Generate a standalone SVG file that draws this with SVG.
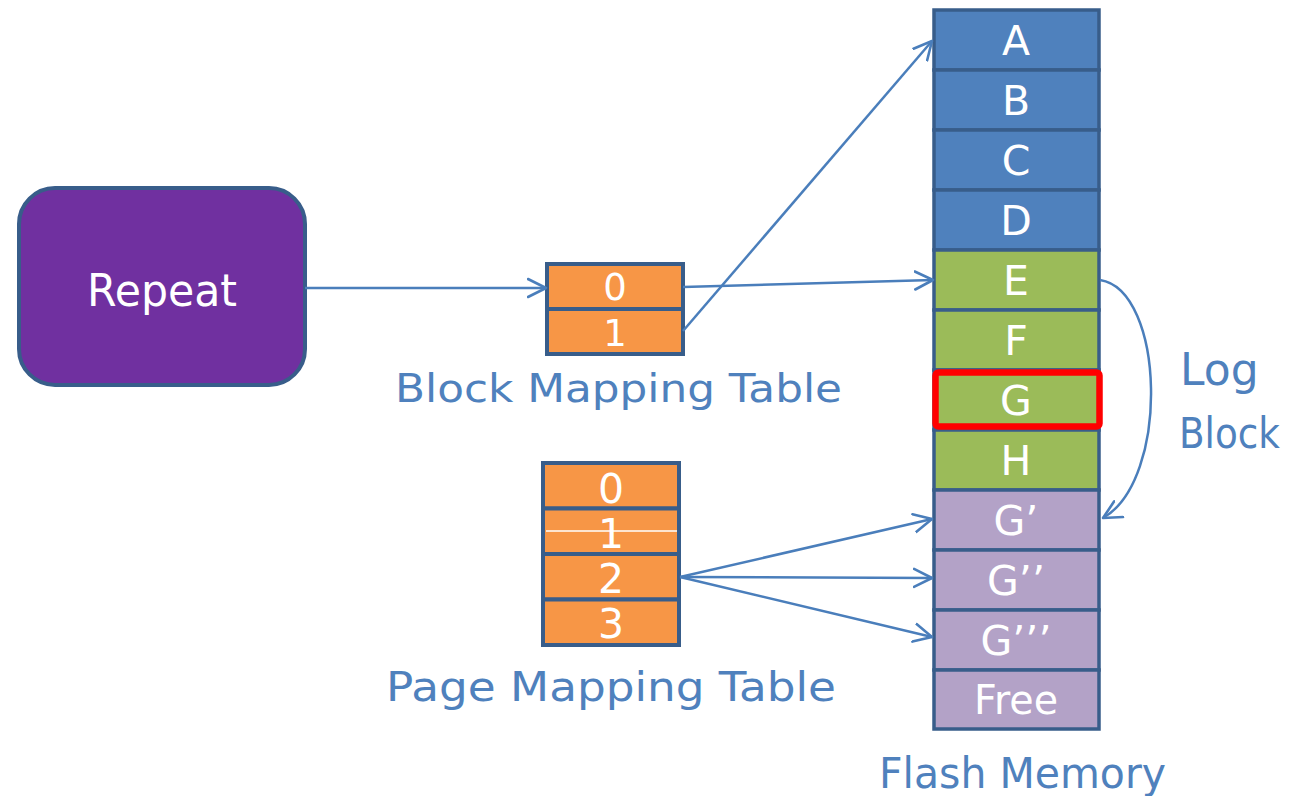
<svg xmlns="http://www.w3.org/2000/svg" width="1295" height="796" viewBox="0 0 1295 796">
<defs>
<style>
.cell{stroke:#385D8A;stroke-width:3.5}
.blue{fill:#4F81BD}
.green{fill:#9BBB59}
.purple{fill:#B3A2C7}
.orange{fill:#F79646;stroke:#385D8A;stroke-width:4}
.ct{font-family:"DejaVu Sans","Liberation Sans",sans-serif;fill:#FFFFFF;text-anchor:middle}
.lbl{font-family:"DejaVu Sans","Liberation Sans",sans-serif;fill:#4F81BD}
.conn{stroke:#4A7EBB;stroke-width:2.5;fill:none;marker-end:url(#arr)}
</style>
<marker id="arr" markerUnits="userSpaceOnUse" markerWidth="22" markerHeight="22" viewBox="0 0 22 22" refX="19" refY="11" orient="auto">
<path d="M1,2 L19,11 L1,20" fill="none" stroke="#4A7EBB" stroke-width="2.6" stroke-linejoin="round" stroke-linecap="round"/>
</marker>
</defs>
<rect width="1295" height="796" fill="#FFFFFF"/>

<g id="repeat">
<rect x="19" y="188" width="286" height="197" rx="36" ry="36" fill="#7030A0" stroke="#385D8A" stroke-width="4"/>
<text class="ct" x="162" y="306" font-size="45" textLength="150" lengthAdjust="spacingAndGlyphs">Repeat</text>
</g>

<g id="block-mapping-table">
<rect class="orange" x="547" y="264" width="136" height="45"/>
<rect class="orange" x="547" y="309" width="136" height="45"/>
<text class="ct" x="615" y="300" font-size="37">0</text>
<text class="ct" x="615" y="346" font-size="37">1</text>
<text class="lbl" x="395" y="402" font-size="39" textLength="447" lengthAdjust="spacingAndGlyphs">Block Mapping Table</text>
</g>

<g id="page-mapping-table">
<rect class="orange" x="543" y="463" width="136" height="45.5"/>
<rect class="orange" x="543" y="508.5" width="136" height="45.5"/>
<rect class="orange" x="543" y="554" width="136" height="45.5"/>
<rect class="orange" x="543" y="599.5" width="136" height="45.5"/>
<text class="ct" x="611" y="503" font-size="41">0</text>
<text class="ct" x="611" y="548" font-size="41">1</text>
<text class="ct" x="611" y="593" font-size="41">2</text>
<text class="ct" x="611" y="638" font-size="41">3</text>
<line x1="546" y1="531" x2="677" y2="531" stroke="#FFFFFF" stroke-width="1.5"/>
<text class="lbl" x="386" y="701" font-size="40" textLength="450" lengthAdjust="spacingAndGlyphs">Page Mapping Table</text>
</g>

<g id="flash-memory">
<rect class="cell blue" x="934" y="10" width="165" height="60"/>
<rect class="cell blue" x="934" y="70" width="165" height="60"/>
<rect class="cell blue" x="934" y="130" width="165" height="60"/>
<rect class="cell blue" x="934" y="190" width="165" height="60"/>
<rect class="cell green" x="934" y="250" width="165" height="60"/>
<rect class="cell green" x="934" y="310" width="165" height="60"/>
<rect class="cell green" x="934" y="370" width="165" height="60"/>
<rect class="cell green" x="934" y="430" width="165" height="60"/>
<rect class="cell purple" x="934" y="490" width="165" height="60"/>
<rect class="cell purple" x="934" y="550" width="165" height="60"/>
<rect class="cell purple" x="934" y="610" width="165" height="60"/>
<rect class="cell purple" x="934" y="670" width="165" height="59"/>
<text class="ct" x="1016" y="55" font-size="41">A</text>
<text class="ct" x="1016" y="115" font-size="41">B</text>
<text class="ct" x="1016" y="175" font-size="41">C</text>
<text class="ct" x="1016" y="235" font-size="41">D</text>
<text class="ct" x="1016" y="295" font-size="41">E</text>
<text class="ct" x="1016" y="355" font-size="41">F</text>
<text class="ct" x="1016" y="415" font-size="41">G</text>
<text class="ct" x="1016" y="475" font-size="41">H</text>
<text class="ct" x="1016" y="535" font-size="41">G’</text>
<text class="ct" x="1016" y="595" font-size="41">G’’</text>
<text class="ct" x="1016" y="655" font-size="41">G’’’</text>
<text class="ct" x="1016" y="714" font-size="41" textLength="84" lengthAdjust="spacingAndGlyphs">Free</text>
<rect x="935.5" y="372.5" width="164" height="54" rx="3" ry="3" fill="none" stroke="#FF0000" stroke-width="6.5"/>
<text class="lbl" x="879" y="788" font-size="42" textLength="287" lengthAdjust="spacingAndGlyphs">Flash Memory</text>
</g>

<g id="log-block-label">
<text class="lbl" x="1180" y="385" font-size="44">Log</text>
<text class="lbl" x="1179" y="448" font-size="43" textLength="101" lengthAdjust="spacingAndGlyphs">Block</text>
</g>

<g id="connectors">
<line class="conn" x1="305" y1="288" x2="546" y2="288"/>
<line class="conn" x1="683" y1="287" x2="933" y2="280"/>
<line class="conn" x1="683" y1="331" x2="932" y2="41"/>
<line class="conn" x1="680" y1="577" x2="932" y2="519"/>
<line class="conn" x1="680" y1="577" x2="932" y2="578"/>
<line class="conn" x1="680" y1="577" x2="932" y2="637"/>
<path class="conn" d="M1100,280 C1165,290 1170,480 1103,518"/>
</g>
</svg>
